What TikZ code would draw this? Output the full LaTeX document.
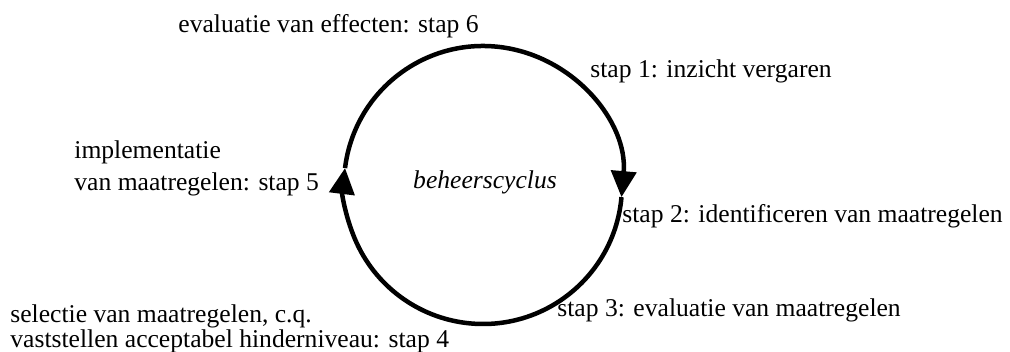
\documentclass[tikz,border=0pt]{standalone}
\usepackage{fontspec}
\setmainfont{Liberation Serif}
\usetikzlibrary{arrows.meta,calc}
\begin{document}
\begin{tikzpicture}[x=0.5pt,y=0.5pt,every node/.style={inner sep=0pt,font=\fontsize{12.8}{16}\selectfont}]
\useasboundingbox (0,0) rectangle (1010,352);

\coordinate (c) at (483,167);
\node[anchor=base] (0) at (485,163) {\itshape beheerscyclus};
\node[anchor=base west] (1) at (590,274) {stap 1: inzicht vergaren};
\node[anchor=base west] (2) at (622,129) {stap 2: identificeren van maatregelen};
\node[anchor=base west] (3) at (557,35) {stap 3: evaluatie van maatregelen};
\node[anchor=west,align=left,font=\fontsize{12.8}{10.8}\selectfont] (4) at (10,23) {selectie van maatregelen, c.q.\\vaststellen acceptabel hinderniveau: stap 4};
\node[anchor=west,align=left] (5) at (74,184) {implementatie\\van maatregelen: stap 5};
\node[anchor=base west] (6) at (178,319) {evaluatie van effecten: stap 6};

\draw[line width=2.25pt,-{Triangle[length=13pt,width=12.5pt]}] ($(c)+(173:139)$) arc[start angle=173,end angle=-5,radius=139];
\draw[line width=2.25pt,-{Triangle[length=13pt,width=12.5pt]}] ($(c)+(-5:139)$) arc[start angle=-5,end angle=-187,radius=139];
\end{tikzpicture}
\end{document}
